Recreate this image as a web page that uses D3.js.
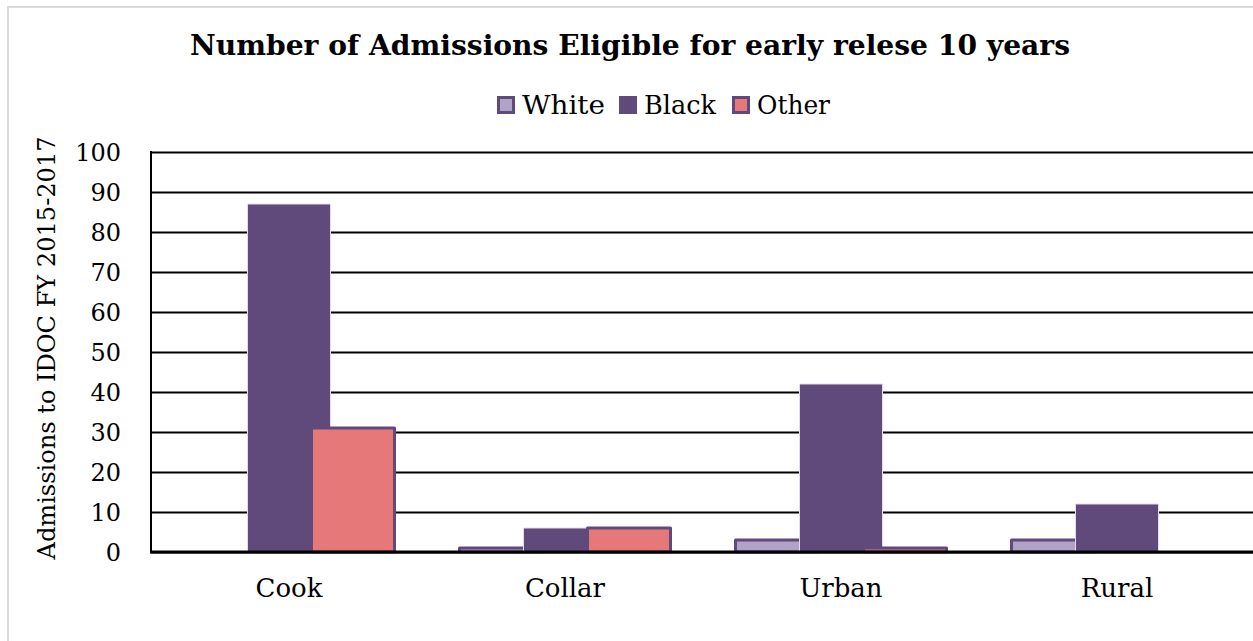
<!DOCTYPE html>
<html>
<head>
<meta charset="utf-8">
<script src="https://cdn.jsdelivr.net/npm/d3@7"></script>
<style>
  html, body { margin: 0; padding: 0; background: #fff; }
  svg { display: block; }
  text { font-family: "DejaVu Serif", "Liberation Serif", serif; fill: #000; }
</style>
</head>
<body>
<script>
// Admissions eligible for early release, by region and race
const categories = ["Cook", "Collar", "Urban", "Rural"];
const seriesNames = ["White", "Black", "Other"];
const whiteValues = [0, 1, 3, 3];
const blackValues = [87, 6, 42, 12];
const otherValues = [31, 6, 1, 0];
const yTicks = [0, 10, 20, 30, 40, 50, 60, 70, 80, 90, 100];

const titleText = "Number of Admissions Eligible for early relese 10 years";
const yTitle = "Admissions to IDOC FY 2015-2017";

const fills = { White: "#b3a2c7", Black: "#604a7b", Other: "#e6787a" };
const strokes = { White: "#604a7b", Black: "#e4dcee", Other: "#604a7b" };

const W = 1253, H = 641;
const plot = { left: 151, right: 1255, top: 152, bottom: 552 };

const svg = d3.select("body").append("svg").attr("width", W).attr("height", H);

// outer chart frame
svg.append("rect")
  .attr("x", 8).attr("y", 7).attr("width", W + 20).attr("height", H + 20)
  .attr("fill", "none").attr("stroke", "#d9d9d9").attr("stroke-width", 2);

const x0 = d3.scaleBand().domain(categories).range([plot.left, plot.right]).paddingInner(0).paddingOuter(0);
const y = d3.scaleLinear().domain([0, 100]).range([plot.bottom, plot.top]);

// bar layout inside each category: overlapping bars
const barW = 86, step = 64;
const groupW = step * (seriesNames.length - 1) + barW;
const xs = d3.scaleOrdinal().domain(seriesNames).range(seriesNames.map((s, i) => i * step));

// gridlines
const grid = svg.append("g").attr("class", "grid")
  .attr("transform", `translate(${plot.left},0)`)
  .call(d3.axisLeft(y).tickValues(yTicks).tickSize(-(W - plot.left)).tickFormat(""));
grid.select(".domain").remove();
grid.selectAll(".tick line").attr("stroke", "#000").attr("stroke-width", 2);

// y tick labels
svg.selectAll(".ylab").data(yTicks).enter().append("text")
  .attr("x", 121).attr("y", d => y(d) + 9)
  .attr("text-anchor", "end")
  .style("font-size", "24px")
  .text(d => d);

// y axis title
svg.append("text")
  .attr("transform", `translate(55,${(plot.top + plot.bottom) / 2 - 4}) rotate(-90)`)
  .attr("text-anchor", "middle")
  .style("font-size", "24px")
  .attr("textLength", 423).attr("lengthAdjust", "spacingAndGlyphs")
  .text(yTitle);

// bars
const rows = categories.map((c, i) => ({
  cat: c,
  vals: [
    { s: "White", v: whiteValues[i] },
    { s: "Black", v: blackValues[i] },
    { s: "Other", v: otherValues[i] }
  ]
}));

const groups = svg.selectAll(".grp").data(rows).enter().append("g")
  .attr("transform", d => `translate(${x0(d.cat) + (x0.bandwidth() - groupW) / 2},0)`);

groups.selectAll("rect").data(d => d.vals.filter(v => v.v > 0)).enter().append("rect")
  .attr("x", d => xs(d.s) + 1.5)
  .attr("y", d => y(d.v))
  .attr("width", barW - 3)
  .attr("height", d => y(0) - y(d.v))
  .attr("fill", d => fills[d.s])
  .attr("stroke", d => strokes[d.s])
  .attr("stroke-width", d => d.s === "Black" ? 1 : 3)
  .attr("stroke-linejoin", "round");

// axis lines
svg.append("line")
  .attr("x1", plot.left).attr("x2", plot.left)
  .attr("y1", y(100) - 1).attr("y2", y(0) + 1)
  .attr("stroke", "#000").attr("stroke-width", 2);
svg.append("line")
  .attr("x1", plot.left - 1).attr("x2", W)
  .attr("y1", y(0)).attr("y2", y(0))
  .attr("stroke", "#000").attr("stroke-width", 3);

// category labels
svg.selectAll(".xlab").data(categories).enter().append("text")
  .attr("x", d => x0(d) + x0.bandwidth() / 2)
  .attr("y", 597)
  .attr("text-anchor", "middle")
  .style("font-size", "26px")
  .text(d => d);

// title
svg.append("text")
  .attr("x", 630).attr("y", 55)
  .attr("text-anchor", "middle")
  .style("font-size", "27px").style("font-weight", "bold")
  .attr("textLength", 880).attr("lengthAdjust", "spacingAndGlyphs")
  .text(titleText);

// legend
const legendX = [497, 619, 732];
const legendW = [83, 72, 73];
const leg = svg.selectAll(".leg").data(seriesNames).enter().append("g")
  .attr("transform", (d, i) => `translate(${legendX[i]},96)`);
leg.append("rect")
  .attr("x", d => d === "Black" ? 0 : 1.5).attr("y", d => d === "Black" ? 0 : 1.5)
  .attr("width", d => d === "Black" ? 18 : 15).attr("height", d => d === "Black" ? 18 : 15)
  .attr("fill", d => fills[d])
  .attr("stroke", d => d === "Black" ? "none" : "#604a7b")
  .attr("stroke-width", 3);
leg.append("text")
  .attr("x", 25).attr("y", 18)
  .style("font-size", "26px")
  .attr("textLength", (d, i) => legendW[i]).attr("lengthAdjust", "spacingAndGlyphs")
  .text(d => d);
</script>
</body>
</html>
